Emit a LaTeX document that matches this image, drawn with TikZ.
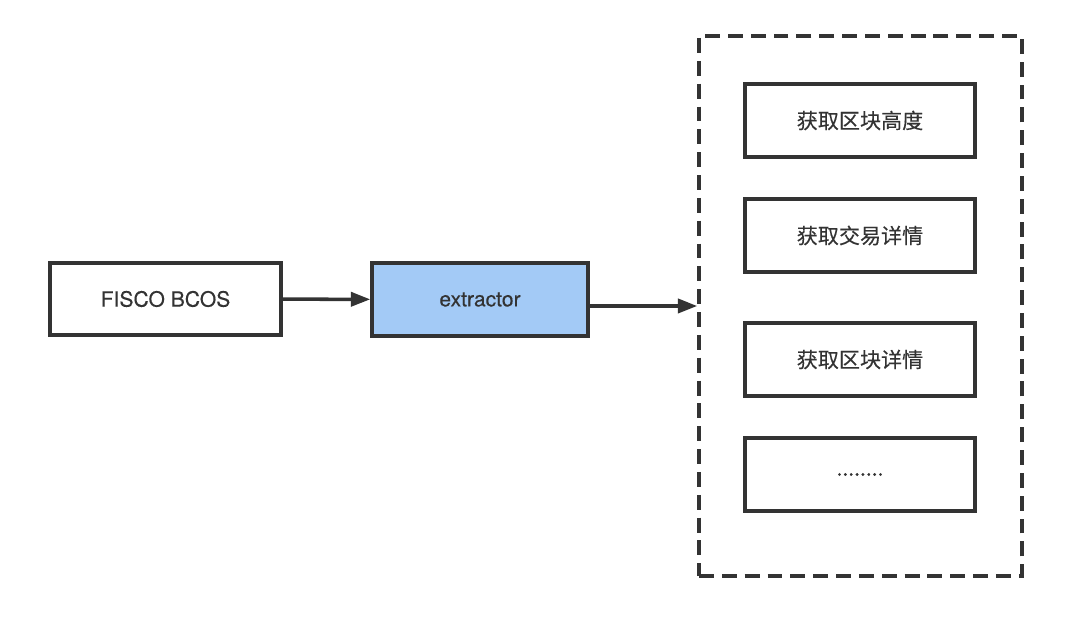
\documentclass[tikz,border=0pt]{standalone}
\usepackage{fontspec}
\setmainfont{TeX Gyre Heros}[FakeBold=0.3]
\newfontfamily\cjk{Noto Sans CJK SC}[FakeBold=0.3]
\usetikzlibrary{arrows.meta}
\definecolor{inkgray}{HTML}{333333}
\definecolor{boxblue}{HTML}{A3CAF6}

\begin{document}
\begin{tikzpicture}[x=0.02cm, y=-0.02cm, line width=2pt, draw=inkgray, text=inkgray,
  font=\fontsize{12}{14}\selectfont, >={Triangle[length=11pt,width=8pt]},
  stagebox/.style={draw=inkgray, rectangle, minimum height=1.46cm, inner sep=0pt},
  taskbox/.style={stagebox, minimum width=4.6cm, font=\fontsize{12}{14}\selectfont\cjk}]
\useasboundingbox (0,0) rectangle (1080,618);
\node (fisco) at (165.5,299) [stagebox, minimum width=4.62cm, minimum height=1.44cm] {FISCO BCOS};
\node (extractor) at (480,299.5) [stagebox, minimum width=4.32cm, fill=boxblue] {extractor};
\node (group) at (860.5,306) [draw=inkgray, dash pattern=on 8.5pt off 4.5pt, minimum width=6.46cm, minimum height=10.8cm, inner sep=0pt] {};
\node (height) at (860,120.5) [taskbox] {获取区块高度};
\node (tx) at (860,235.5) [taskbox] {获取交易详情};
\node (block) at (860,359.5) [taskbox] {获取区块详情};
\node (more) at (860,474.5) [taskbox] {........};
\draw[->] (fisco) -- (extractor);
\draw[->] (extractor.east |- group.west) -- (group.west);
\end{tikzpicture}
\end{document}
